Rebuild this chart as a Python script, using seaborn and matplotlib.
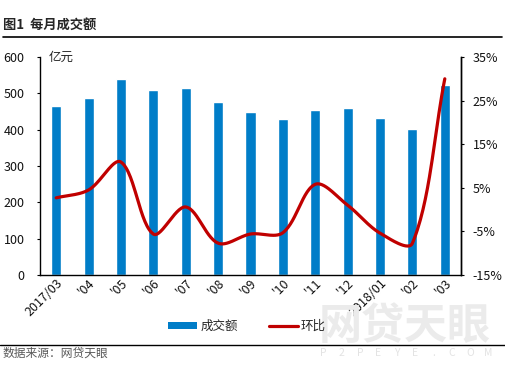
import numpy as np
import pandas as pd
import matplotlib
matplotlib.use("Agg")
import matplotlib.pyplot as plt
from matplotlib.lines import Line2D
from matplotlib.patches import Patch
import seaborn as sns

# data
months = ["2017/03", "'04", "'05", "'06", "'07", "'08", "'09", "'10", "'11", "'12", "2018/01", "'02", "'03"]
volume = [465, 487, 539, 509, 515, 476, 449, 429, 454, 460, 432, 402, 523]   # 亿元
mom = [2.7, 4.5, 10.9, -5.6, 0.6, -7.7, -5.6, -5.3, 5.8, 1.0, -5.4, -7.7, 30.0]  # 环比 %

sns.set_theme(style="white")
plt.rcParams["font.family"] = ["Noto Sans CJK SC", "DejaVu Sans"]
plt.rcParams["axes.unicode_minus"] = False

bar_color = "#007DC8"
line_color = "#C00000"

df = pd.DataFrame({"month": months, "volume": volume})

fig = plt.figure(figsize=(5.05, 3.65), dpi=100)
ax = fig.add_axes([40 / 505, 1 - 275 / 365, 421 / 505, 218 / 365])

sns.barplot(data=df, x="month", y="volume", order=months, color=bar_color,
            saturation=1, width=0.31, ax=ax)
ax.set_xlim(-0.5, len(months) - 0.5)
ax.set_ylim(0, 600)
ax.set_yticks(range(0, 601, 100))
ax.set_xlabel("")
ax.set_ylabel("")
ax.tick_params(axis="y", direction="out", length=2.5, width=0.8, color="black",
               labelsize=9, pad=8.5, left=True, labelcolor="#111111")
ax.tick_params(axis="x", length=0, labelsize=9, pad=1, labelcolor="#111111")
plt.setp(ax.get_xticklabels(), rotation=45, ha="right", rotation_mode="anchor")
for s in ["left", "bottom", "right"]:
    ax.spines[s].set_color("black")
    ax.spines[s].set_linewidth(1.0)
ax.spines["top"].set_visible(False)
ax.text(0.02, 1.0, "亿元", transform=ax.transAxes, fontsize=9, va="center", ha="left")


# Excel-like smooth line: bezier through the points, tangents weighted by
# segment lengths in screen space (keeps overshoot small)
def smooth(ys, sx=32.4, sy=4.36, n=30):
    pts = np.column_stack([np.arange(len(ys)) * sx, np.asarray(ys, float) * sy])
    out = []
    t = np.linspace(0, 1, n, endpoint=False)[:, None]
    for i in range(len(pts) - 1):
        p1, p2 = pts[i], pts[i + 1]
        p0 = pts[i - 1] if i > 0 else p1
        p3 = pts[i + 2] if i + 2 < len(pts) else p2
        d01, d12, d23 = (np.linalg.norm(p1 - p0), np.linalg.norm(p2 - p1),
                         np.linalg.norm(p3 - p2))
        c1 = p1 + (p2 - p0) * d12 / (d01 + d12) / 3
        c2 = p2 - (p3 - p1) * d12 / (d12 + d23) / 3
        out.append((1 - t) ** 3 * p1 + 3 * (1 - t) ** 2 * t * c1
                   + 3 * (1 - t) * t ** 2 * c2 + t ** 3 * p2)
    out.append(pts[-1][None, :])
    out = np.vstack(out)
    return out[:, 0] / sx, out[:, 1] / sy


ax2 = ax.twinx()
cx, cy = smooth(mom)
ax2.plot(cx, cy, color=line_color, lw=2.3, solid_capstyle="round")
ax2.set_ylim(-15, 35)
ax2.set_yticks(range(-15, 36, 10))
ax2.set_yticklabels([f"{v}%" for v in range(-15, 36, 10)])
ax2.tick_params(axis="y", direction="out", length=2.5, width=0.8, color="black",
                labelsize=9, pad=6, right=True, labelcolor="#111111")
ax2.set_ylabel("")
ax2.grid(False)
ax.grid(False)
for s in ["top", "left", "bottom"]:
    ax2.spines[s].set_visible(False)
ax2.spines["right"].set_color("black")
ax2.spines["right"].set_linewidth(1.0)

handles = [Patch(facecolor=bar_color, edgecolor="none"),
           Line2D([0], [0], color=line_color, lw=2.3)]
fig.legend(handles, ["成交额", "环比"], loc="center", bbox_to_anchor=(247 / 505, 1 - 326 / 365),
           ncol=2, frameon=False, fontsize=9, handlelength=2.3, handleheight=0.5,
           handletextpad=0.25, columnspacing=2.5)

# title, rules, source and watermark
fig.text(3 / 505, 1 - 25 / 365, "图1  每月成交额", fontsize=9.5, fontweight="bold", va="center")
fig.add_artist(Line2D([3 / 505, 502 / 505], [1 - 37 / 365] * 2, color="black", lw=1.2))
fig.add_artist(Line2D([0, 1], [1 - 345 / 365] * 2, color="black", lw=1.0))
fig.text(405 / 505, 1 - 326 / 365, "网贷天眼", fontsize=31, fontweight="bold",
         color="#EBEBEB", ha="center", va="center", zorder=0)
for i, ch in enumerate("P2PEYE.COM"):
    fig.text((323 + i * 18.4) / 505, 1 - 353 / 365, ch, fontsize=7.5,
             color="#E3E3E3", ha="center", va="center", zorder=0)
fig.text(3 / 505, 1 - 353 / 365, "数据来源：网贷天眼", fontsize=8.5, color="#595959", va="center")

fig.savefig("out.png", dpi=100)
